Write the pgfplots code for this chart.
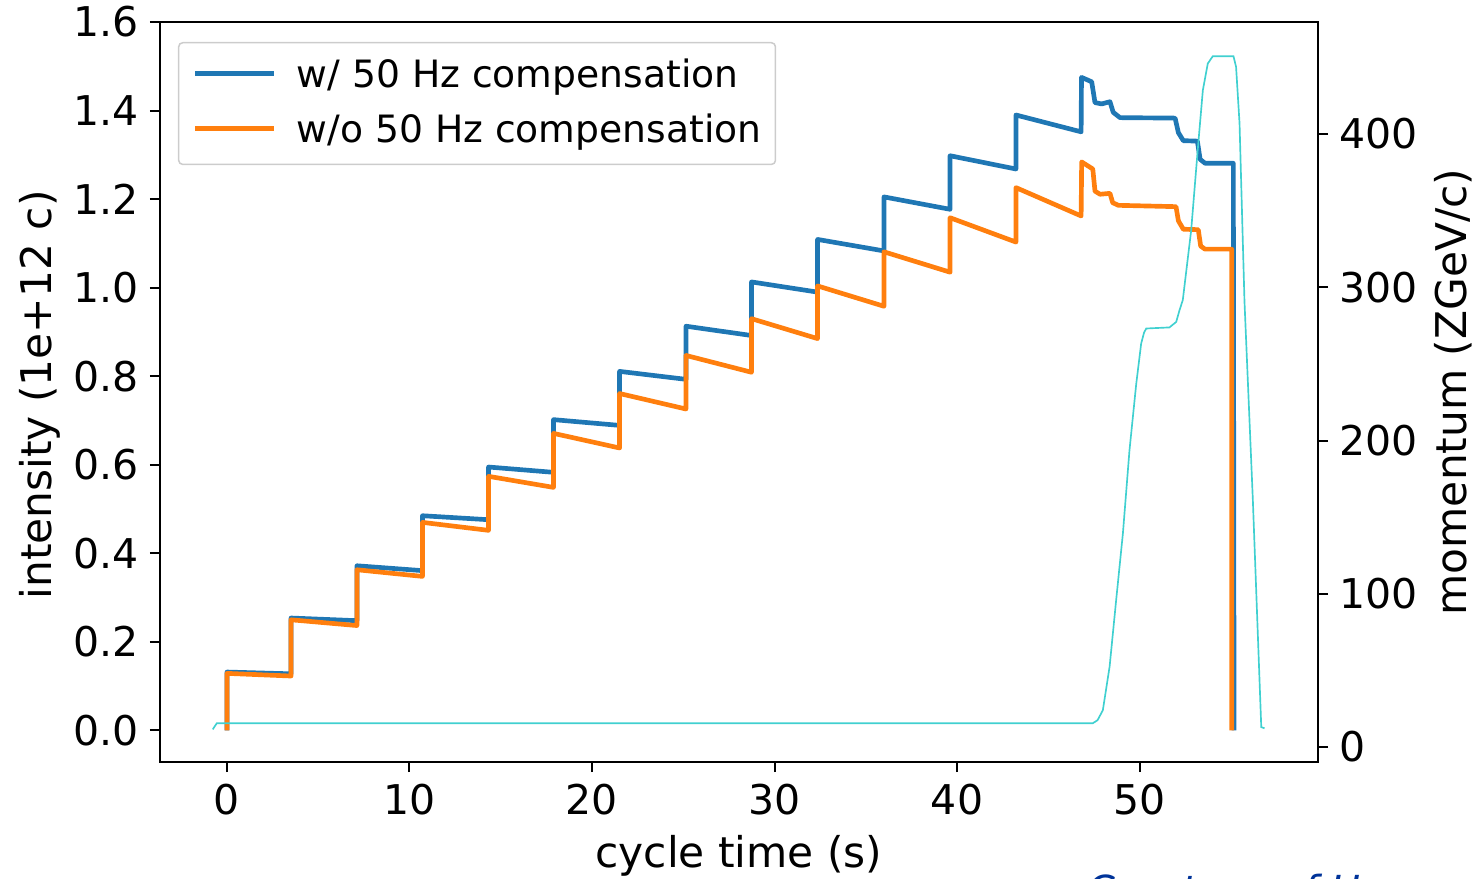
\documentclass[border=0pt]{standalone}
\usepackage{fontspec}
\setmainfont{DejaVu Sans}
\usepackage{pgfplots}
\usepackage{pgfplotstable}
\pgfplotsset{compat=1.18}
\usetikzlibrary{calc}
\definecolor{mplblue}{RGB}{31,119,180}
\definecolor{mplorange}{RGB}{255,127,14}
\definecolor{momcyan}{RGB}{64,208,208}
\definecolor{legframe}{RGB}{204,204,204}
\definecolor{courtesy}{RGB}{0,51,153}

\pgfplotstableread{
x y
0 0
0 0.132
3.51 0.128
3.51 0.254
7.12 0.248
7.12 0.372
10.71 0.361
10.71 0.485
14.33 0.476
14.33 0.595
17.89 0.583
17.89 0.702
21.51 0.689
21.51 0.811
25.15 0.793
25.15 0.913
28.74 0.892
28.74 1.013
32.36 0.990
32.36 1.109
36.00 1.083
36.00 1.205
39.62 1.177
39.62 1.298
43.23 1.268
43.23 1.390
46.80 1.352
46.82 1.475
47.38 1.465
47.56 1.418
47.93 1.415
48.38 1.420
48.56 1.396
48.93 1.384
51.95 1.383
52.13 1.350
52.40 1.332
53.17 1.331
53.32 1.290
53.59 1.281
55.14 1.281
55.18 0.0
}\withcomp

\pgfplotstableread{
x y
0 0
0 0.129
3.51 0.123
3.51 0.250
7.12 0.237
7.12 0.363
10.71 0.348
10.71 0.470
14.33 0.452
14.33 0.574
17.89 0.549
17.89 0.671
21.51 0.638
21.51 0.761
25.15 0.726
25.15 0.847
28.74 0.809
28.74 0.930
32.36 0.885
32.36 1.004
36.00 0.958
36.00 1.081
39.62 1.035
39.62 1.158
43.23 1.103
43.23 1.226
46.80 1.162
46.83 1.284
47.44 1.268
47.56 1.218
47.84 1.211
48.38 1.213
48.53 1.192
48.84 1.186
52.00 1.183
52.13 1.151
52.40 1.132
53.22 1.131
53.35 1.094
53.59 1.087
55.05 1.087
55.05 0.0
}\withoutcomp

\pgfplotstableread{
x y
-0.78 11.5
-0.56 15.5
47.44 15.5
47.70 17.5
47.99 24
48.36 52.4
48.72 95.9
49.09 139.5
49.45 193.7
49.82 237
50.09 263.3
50.25 270.5
50.37 273.1
51.64 273.8
52.01 277.4
52.19 285
52.37 291.6
52.83 337.2
53.19 389.8
53.47 428.6
53.74 446
54.01 450.7
55.15 450.7
55.29 443.8
55.48 407
55.75 291
56.21 161
56.67 13
56.85 12.2
}\momentum

\begin{document}
\begin{tikzpicture}
\begin{axis}[
  at={(48pt,34.8pt)}, anchor=south west,
  scale only axis, width=347.4pt, height=222pt,
  xmin=-3.67, xmax=59.78, ymin=-0.0712, ymax=1.6,
  xtick={0,10,20,30,40,50},
  ytick={0,0.2,0.4,0.6,0.8,1.0,1.2,1.4,1.6},
  xtick pos=left, ytick pos=left,
  tick align=outside,
  major tick length=3pt,
  every tick/.style={black, line width=0.6pt},
  axis line style={line width=0.7pt},
  yticklabel style={/pgf/number format/fixed, /pgf/number format/fixed zerofill, /pgf/number format/precision=1},
  tick label style={font=\fontsize{12.3}{14}\selectfont},
  /pgf/number format/assume math mode=true,
  label style={font=\fontsize{12.7}{15}\selectfont},
  xlabel={cycle time (s)},
  ylabel={intensity (1e+12 c)},
  xlabel style={at={($(rel axis cs:0.5,0)+(0,-31.5pt)$)}, anchor=base},
  ylabel style={at={($(rel axis cs:0,0.496)+(-32.4pt,0)$)}, anchor=base},
  legend style={at={(rel axis cs:0.0155,0.973)}, anchor=north west,
    draw=legframe, line width=0.45pt, rounded corners=1.2pt, fill=white,
    inner xsep=4.2pt, inner ysep=4.6pt, row sep=5.7pt,
    font=\fontsize{11.3}{13}\selectfont,
    nodes={inner sep=0pt, text height=8.8pt, text depth=2pt}},
  legend cell align=left,
  legend image code/.code={\path[draw=none,fill=none] (0pt,0.8pt) -- (30.5pt,0.8pt); \draw[#1, line cap=butt] (0pt,0.8pt) -- (23.7pt,0.8pt);},
]
\addplot[mplblue, line width=1.4pt, line join=round] table[x=x,y=y] {\withcomp};
\addlegendentry{w/ 50 Hz compensation}
\addplot[mplorange, line width=1.4pt, line join=round] table[x=x,y=y] {\withoutcomp};
\addlegendentry{w/o 50 Hz compensation}
\end{axis}
\begin{axis}[
  at={(48pt,34.8pt)}, anchor=south west,
  scale only axis, width=347.4pt, height=222pt,
  xmin=-3.67, xmax=59.78, ymin=-9.79, ymax=473.1,
  axis x line=none, axis y line*=right,
  ytick={0,100,200,300,400},
  tick align=outside,
  major tick length=3pt,
  every tick/.style={black, line width=0.6pt},
  axis line style={line width=0.7pt},
  tick label style={font=\fontsize{12.3}{14}\selectfont},
  /pgf/number format/assume math mode=true,
  label style={font=\fontsize{12.7}{15}\selectfont},
  ylabel={momentum (ZGeV/c)},
  ylabel style={at={($(rel axis cs:1,0.5)+(44.4pt,0)$)}, anchor=base},
]
\addplot[momcyan, line width=0.5pt] table[x=x,y=y] {\momentum};
\end{axis}
\node[anchor=base west, inner sep=0pt, font=\fontsize{12}{14}\selectfont\itshape, text=courtesy] at (326.1pt,-7.8pt) {Courtesy of H};
\pgfresetboundingbox
\useasboundingbox (0,0) rectangle (443.4pt,263.4pt);
\end{tikzpicture}
\end{document}
